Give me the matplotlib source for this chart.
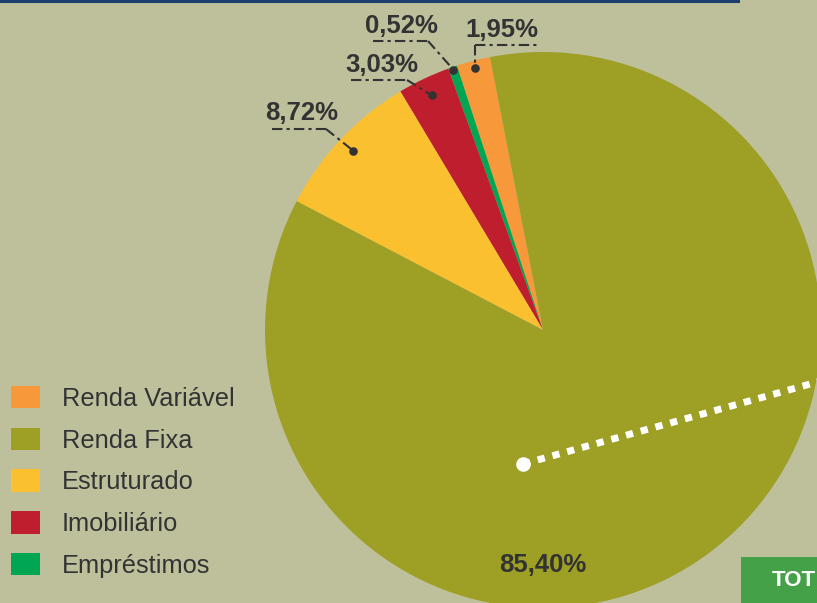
import matplotlib
matplotlib.use("Agg")
import matplotlib.pyplot as plt
from matplotlib.patches import Rectangle
import numpy as np

# data (legend order)
categories = ["Renda Variável", "Renda Fixa", "Estruturado", "Imobiliário", "Empréstimos"]
shares = [1.95, 85.40, 8.72, 3.03, 0.52]
share_labels = ["1,95%", "85,40%", "8,72%", "3,03%", "0,52%"]
colors = ["#F7993A", "#9E9F25", "#FBC02F", "#BE1E2D", "#00A651"]

# order of the slices going counterclockwise from the top
pie_order = ["Renda Variável", "Empréstimos", "Imobiliário", "Estruturado", "Renda Fixa"]

BG = "#BEC09C"
TXT = "#333333"

W, H = 817, 603
CX, CY, R = 543, 330, 278   # pie centre / radius in pixels


def px(x, y):
    # pixel position -> data units (pie has radius 1)
    return (x - CX) / R, (CY - y) / R


fig = plt.figure(figsize=(W / 100, H / 100), dpi=100, facecolor=BG)
ax = fig.add_axes([0, 0, 1, 1])
ax.set_facecolor(BG)

idx = [categories.index(c) for c in pie_order]
wedges, _ = ax.pie([shares[i] for i in idx], colors=[colors[i] for i in idx],
                   startangle=101, counterclock=True, radius=1, center=(0, 0),
                   wedgeprops=dict(linewidth=0))
wedge_of = {pie_order[k]: wedges[k] for k in range(len(wedges))}

x0, y0 = px(0, H)
x1, y1 = px(W, 0)
ax.set_xlim(x0, x1)
ax.set_ylim(y0, y1)
ax.axis("off")

lab_font = ["Liberation Sans Narrow", "Liberation Sans", "DejaVu Sans"]
LAB_SIZE = 18.5

# label layout: text centre x / baseline y, leader (horizontal from, to, y) in px, dot radius factor
layout = {
    "Renda Variável": dict(tx=502, ty=37, hx=(None, 62), hy=45, r=0.975),
    "Empréstimos": dict(tx=401, ty=33, hx=(373, 428), hy=41, r=0.99),
    "Imobiliário": dict(tx=382, ty=72, hx=(351, 407), hy=80, r=0.935),
    "Estruturado": dict(tx=302, ty=120, hx=(272, 326), hy=129, r=0.94),
}

for cat, lay in layout.items():
    w = wedge_of[cat]
    a = np.deg2rad((w.theta1 + w.theta2) / 2)
    dx, dy = lay["r"] * np.cos(a), lay["r"] * np.sin(a)
    i = categories.index(cat)
    tx, ty = px(lay["tx"], lay["ty"])
    ax.text(tx, ty, share_labels[i], ha="center", va="baseline", fontsize=LAB_SIZE,
            fontweight="bold", color=TXT, family=lab_font)
    _, hy = px(0, lay["hy"])
    if lay["hx"][0] is None:
        # vertical leader going down from the left end of the rule
        hxa = dx
        hxb = dx + lay["hx"][1] / R
        knee = (dx, hy)
    else:
        hxa = px(lay["hx"][0], 0)[0]
        hxb = px(lay["hx"][1], 0)[0]
        knee = (hxb, hy)
    ax.plot([hxa, hxb], [hy, hy], color=TXT, lw=1.5, dashes=(5, 2, 1.5, 2))
    ax.plot([knee[0], dx], [knee[1], dy], color=TXT, lw=1.5, dashes=(5, 2, 1.5, 2))
    ax.plot(dx, dy, "o", color=TXT, ms=6.2, mec="none")

# big slice label
i = categories.index("Renda Fixa")
tx, ty = px(543, 572)
ax.text(tx, ty, share_labels[i], ha="center", va="baseline", fontsize=LAB_SIZE,
        fontweight="bold", color=TXT, family=lab_font)

# white dotted pointer
sx, sy = px(523, 464)
ex, ey = px(900, 359)
ax.plot([sx, ex], [sy, ey], color="white", lw=5, dashes=(1.05, 1.15),
        solid_capstyle="butt", dash_capstyle="butt")
ax.plot(sx, sy, "o", color="white", ms=10.5, mec="none")

# top rule
lx0, ly = px(0, 1.5)
lx1, _ = px(738, 1.5)
ax.plot([lx0, lx1], [ly, ly], color="#1C3F6E", lw=2.2)

# green total box (cropped at the edge)
bx, by = px(741, 620)
ax.add_patch(Rectangle((bx, by), 1.0, 63 / R, color="#44A148", lw=0))
tx, ty = px(772, 586)
ax.text(tx, ty, "TOT", ha="left", va="baseline", fontsize=16, fontweight="bold",
        color="white", family=["Liberation Sans", "DejaVu Sans"])

# legend
handles = [wedge_of[c] for c in categories]
leg = ax.legend(handles, categories, loc="upper left",
                bbox_to_anchor=(11 / W, 1 - 386 / H), bbox_transform=fig.transFigure,
                frameon=False, borderpad=0, borderaxespad=0,
                handlelength=1.14, handleheight=0.98, handletextpad=0.86,
                labelspacing=0.66, prop=dict(family=["Liberation Sans", "DejaVu Sans"], size=18.3))
for t in leg.get_texts():
    t.set_color(TXT)

fig.savefig("out.png", dpi=100, facecolor=BG)
